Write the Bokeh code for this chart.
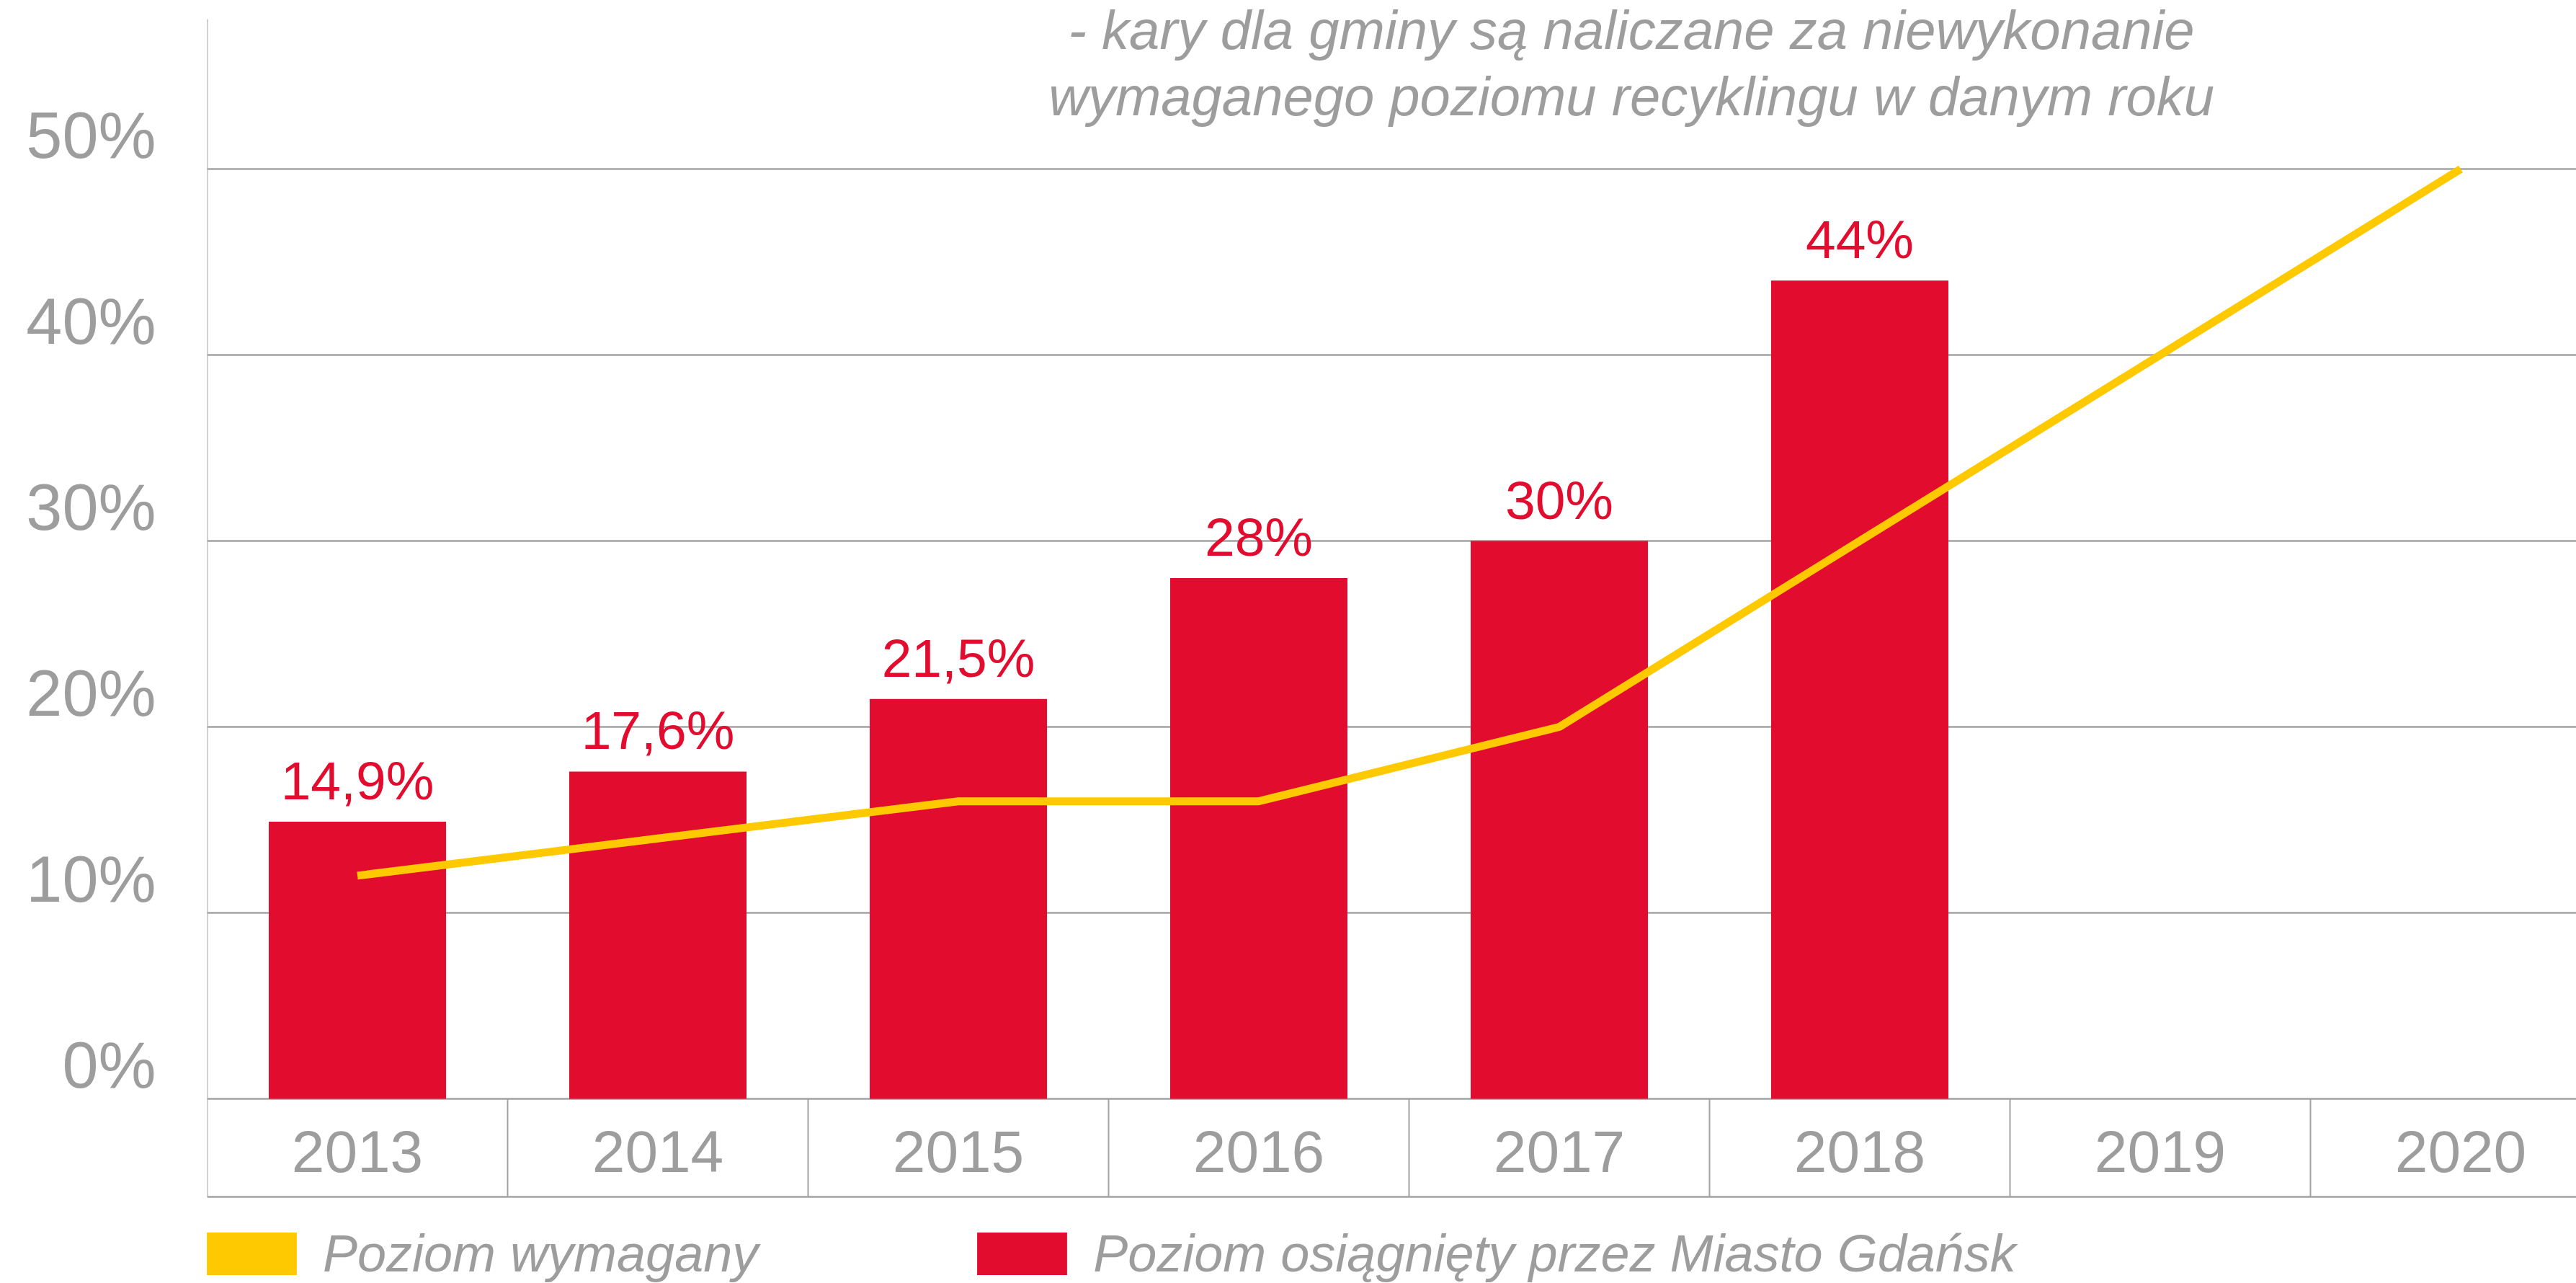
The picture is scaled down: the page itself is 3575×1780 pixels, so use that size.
from bokeh.plotting import figure
from bokeh.models import (Range1d, LinearAxis, FixedTicker, Grid, Legend, LegendItem,
                          Label, LabelSet, ColumnDataSource, Span)
from bokeh.core.properties import value
from bokeh.embed import file_html
from bokeh.resources import INLINE

# ---- data ----
years = [2013, 2014, 2015, 2016, 2017, 2018, 2019, 2020]
year_labels = ["2013", "2014", "2015", "2016", "2017", "2018", "2019", "2020"]
achieved_years = [2013, 2014, 2015, 2016, 2017, 2018]
achieved = [14.9, 17.6, 21.5, 28, 30, 44]
achieved_labels = ["14,9%", "17,6%", "21,5%", "28%", "30%", "44%"]
required = [12, 14, 16, 16, 20, 30, 40, 50]
y_ticks = [0, 10, 20, 30, 40, 50]
y_tick_labels = ["0%", "10%", "20%", "30%", "40%", "50%"]
title_lines = ["- kary dla gminy są naliczane za niewykonanie",
               "wymaganego poziomu recyklingu w danym roku"]
legend_labels = ["Poziom wymagany", "Poziom osiągnięty przez Miasto Gdańsk"]

# ---- style / geometry (pixels) ----
RED = "#e20c2f"
YELLOW = "#ffc900"
GRAY = "#9d9d9d"
LINE_GRAY = "#a2a2a2"
FONT = "Liberation Sans"

W, H = 3575, 1780
LEFT = 287
PX = 25.8            # pixels per percentage point
ZERO_PX = 1524       # screen y of 0 %
TABLE_BOTTOM_PX = 1660
AXIS_TOP_PX = 26
CAT_PX = 417         # pixels per category

y0 = -(H - ZERO_PX) / PX
y1 = ZERO_PX / PX
x0 = years[0] - 0.5
x1 = x0 + (W - LEFT) / CAT_PX

def ypx(px):
    """value at a given screen y"""
    return (ZERO_PX - px) / PX

p = figure(width=W, height=H, output_backend="svg", toolbar_location=None,
           x_range=Range1d(x0, x1), y_range=Range1d(y0, y1),
           x_axis_location=None, y_axis_location=None,
           min_border_left=LEFT, min_border_right=0, min_border_top=0,
           min_border_bottom=0)
p.outline_line_color = None
p.background_fill_color = "white"
p.border_fill_color = "white"
p.center = [r for r in p.center if not isinstance(r, Grid)]

# horizontal grid lines
p.add_layout(Grid(dimension=1, ticker=FixedTicker(ticks=y_ticks),
                  grid_line_color=LINE_GRAY, grid_line_width=2.5))

# y axis labels (sit slightly above their grid lines)
d = 1.8
p.extra_y_ranges = {"lab": Range1d(y0 - d, y1 - d)}
yax = LinearAxis(y_range_name="lab", ticker=FixedTicker(ticks=y_ticks),
                 major_label_overrides={t: l for t, l in zip(y_ticks, y_tick_labels)},
                 major_tick_in=0, major_tick_out=0, minor_tick_in=0, minor_tick_out=0,
                 axis_line_color=None,
                 major_label_standoff=71,
                 major_label_text_font=FONT, major_label_text_font_size="90px",
                 major_label_text_color=GRAY)
p.add_layout(yax, "left")

# category table below the bars: cell borders + year labels
tb = ypx(TABLE_BOTTOM_PX)
bounds = [y - 0.5 for y in years] + [years[-1] + 0.5]
seg_top = [ypx(AXIS_TOP_PX)] + [0] * (len(bounds) - 1)
p.segment(x0=bounds, y0=[tb] * len(bounds), x1=bounds, y1=seg_top,
          line_color=LINE_GRAY, line_width=2)
p.add_layout(Span(location=tb, dimension="width", line_color=LINE_GRAY, line_width=2.5))
p.text(x=years, y=[ypx(1597)] * len(years), text=year_labels,
       text_align="center", text_baseline="middle",
       text_font=value(FONT), text_font_size="82px", text_color=GRAY)

# bars
src = ColumnDataSource(dict(x=achieved_years, top=achieved, lab=achieved_labels))
bars = p.vbar(x="x", top="top", bottom=0, width=0.59, source=src,
              fill_color=RED, line_color=None)
p.add_layout(LabelSet(x="x", y="top", text="lab", source=src, y_offset=31,
                      text_align="center", text_baseline="alphabetic",
                      text_font=value(FONT), text_font_size="75px", text_color=RED))

# required level line
p.line(x=years, y=required, line_color=YELLOW, line_width=11)

# zero-height swatch glyphs at the required levels (used for the legend square)
swatch = p.vbar(x=years, top=required, bottom=required, width=0.5,
                fill_color=YELLOW, line_color=None)

legend = Legend(items=[LegendItem(label=legend_labels[0], renderers=[swatch]),
                       LegendItem(label=legend_labels[1], renderers=[bars])],
                orientation="horizontal", location=(-16, 0),
                glyph_width=156, glyph_height=74, label_height=74,
                label_standoff=21, spacing=288,
                padding=0, margin=0, border_line_color=None, background_fill_alpha=0,
                label_text_font=FONT, label_text_font_size="72px",
                label_text_font_style="italic", label_text_color=GRAY)
p.add_layout(legend)

# note text at the top
for txt, py in zip(title_lines, [41, 133]):
    p.add_layout(Label(x=2017.24, y=ypx(py), text=txt, text_align="center",
                       text_baseline="alphabetic", text_font=FONT,
                       text_font_size="76px", text_font_style="italic",
                       text_color=GRAY))

open("out.html", "w").write(file_html(p, INLINE))
